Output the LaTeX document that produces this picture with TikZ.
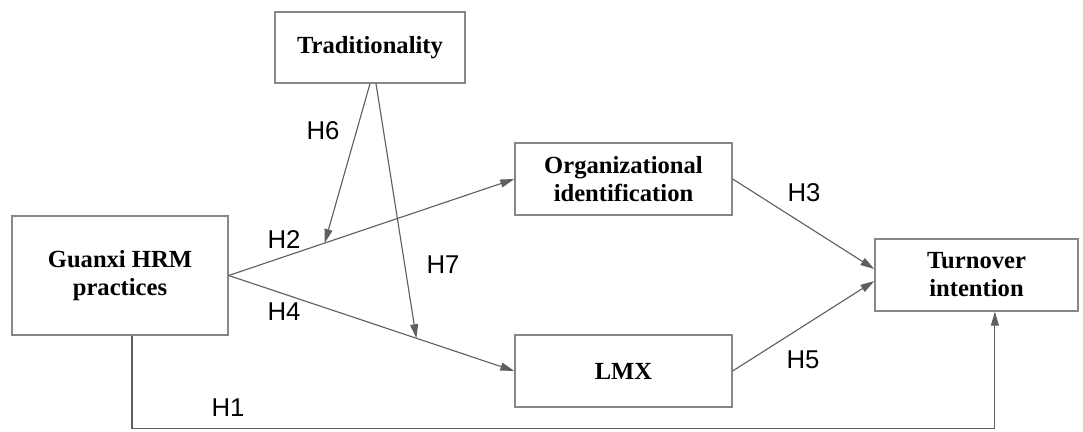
\documentclass[tikz,border=0pt]{standalone}
\usepackage{fontspec}
\setmainfont{Liberation Serif}
\newfontfamily\hypfont{Liberation Sans}
\definecolor{boxgray}{RGB}{135,135,135}
\definecolor{linegray}{RGB}{95,95,95}
\usetikzlibrary{arrows.meta, positioning}
\tikzset{
>={Triangle[length=0.35cm, width=0.2cm]}, % narrow filled arrow heads
every picture/.style={x=0.025cm, y=-0.025cm}, % one unit is one pixel of the drawing
construct/.style={draw=boxgray, line width=0.9pt, inner sep=0pt, align=center, font=\fontsize{17.5}{20}\selectfont\bfseries}, % the boxes
path/.style={draw=linegray, line width=0.8pt}, % the links between boxes
hyp/.style={font=\fontsize{18.3}{20}\hypfont}, % labels H1 ... H7
}

\begin{document}
\begin{tikzpicture}
      \useasboundingbox (0,0) rectangle (1083,432);

      \node[construct, minimum width=5.4cm, minimum height=2.975cm] (guanxi) at (120,275.5) {Guanxi HRM\\practices};
      \node[construct, minimum width=4.75cm, minimum height=1.775cm] (trad) at (370,47.5) {Traditionality};
      \node[construct, minimum width=5.425cm, minimum height=1.8cm] (orgid) at (623.5,179) {Organizational\\identification};
      \node[construct, minimum width=5.425cm, minimum height=1.8cm] (lmx) at (623.5,371) {LMX};
      \node[construct, minimum width=5.075cm, minimum height=1.8cm] (turnover) at (976.5,275) {Turnover\\intention};

      \node[hyp] (h1) at (228,408) {H1};
      \node[hyp] (h2) at (284,240) {H2};
      \node[hyp] (h3) at (804,193) {H3};
      \node[hyp] (h4) at (284,312) {H4};
      \node[hyp] (h5) at (803,360) {H5};
      \node[hyp] (h6) at (323,131) {H6};
      \node[hyp] (h7) at (443,265) {H7};

      \draw[path, ->] (guanxi.east) -- coordinate[pos=0.336] (m6) (orgid.west);
      \draw[path, ->] (guanxi.east) -- coordinate[pos=0.657] (m7) (lmx.west);
      \draw[path, ->] (trad.south) -- (m6);
      \draw[path, ->] ([xshift=0.15cm]trad.south) -- (m7);
      \draw[path, ->] (orgid.east) -- ([yshift=0.15cm]turnover.west);
      \draw[path, ->] (lmx.east) -- ([yshift=-0.15cm]turnover.west);
      \draw[path, ->] ([xshift=0.3cm]guanxi.south) -- ++(0,-2.33cm) -| ([xshift=0.46cm]turnover.south);
    \end{tikzpicture}
\end{document}
